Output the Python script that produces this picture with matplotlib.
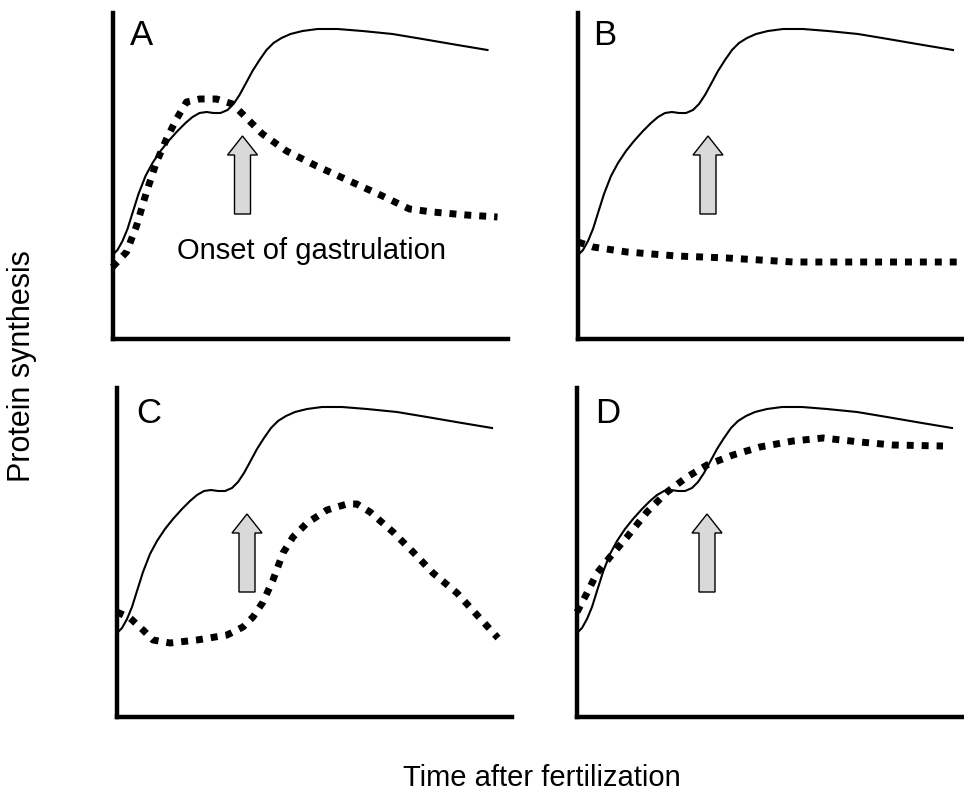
import matplotlib
matplotlib.use("Agg")
import matplotlib.pyplot as plt

plt.rcParams['font.family'] = ['Liberation Sans', 'DejaVu Sans']

# control curve (solid), same in every panel
ctrl_x = [0, 0.5, 1.0, 1.5, 2.0, 2.6, 3.3, 4.0, 4.8, 5.6, 6.5, 7.3, 8.0, 8.7, 9.4, 10.1,
          10.8, 11.5, 12.1, 12.7, 13.3, 14.0, 14.7, 15.4, 16.1, 16.9, 17.8, 19.0, 20.5,
          22.5, 25.0, 28.0, 31.0, 34.5, 37.5]
ctrl_y = [8.4, 8.9, 9.8, 11.0, 12.6, 14.5, 16.3, 17.6, 18.8, 19.8, 20.8, 21.6, 22.2, 22.6,
          22.7, 22.6, 22.6, 22.9, 23.5, 24.4, 25.5, 26.8, 27.9, 28.9, 29.6, 30.1, 30.5, 30.8,
          31.0, 31.0, 30.8, 30.5, 30.0, 29.4, 28.9]

# experimental curves (dotted)
a_x = [0, 1.4, 2.4, 3.4, 4.4, 5.4, 6.4, 7.4, 8.7, 10.4, 12.0, 13.0, 15.0, 17.4,
       20.4, 23.7, 27.0, 29.7, 32.0, 35.4, 38.5]
a_y = [7.2, 8.7, 11.3, 14.7, 17.7, 20.0, 22.0, 23.7, 24.0, 24.0, 23.5, 22.5, 20.5, 18.8,
       17.3, 15.8, 14.3, 13.0, 12.7, 12.4, 12.2]

b_x = [0, 1.5, 4.9, 9.9, 14.9, 21.5, 28.2, 37.9]
b_y = [9.7, 9.2, 8.7, 8.3, 8.1, 7.7, 7.7, 7.7]

c_x = [0, 1.3, 2.6, 3.6, 5.3, 8.0, 11.0, 12.6, 13.6, 14.6, 15.6, 16.6, 17.6, 19.0,
       21.0, 23.0, 24.0, 25.3, 27.6, 29.6, 31.6, 34.0, 36.0, 38.1]
c_y = [10.5, 9.9, 8.7, 7.7, 7.4, 7.7, 8.2, 9.0, 10.0, 11.5, 13.7, 16.4, 18.0, 19.4,
       20.7, 21.3, 21.3, 20.5, 18.5, 16.5, 14.4, 12.4, 10.2, 7.9]

d_x = [0, 1.0, 2.0, 3.3, 5.0, 7.0, 9.0, 11.0, 13.0, 15.6, 18.3, 21.6, 24.6, 28.3,
       31.6, 36.6]
d_y = [10.5, 12.4, 14.4, 16.0, 18.0, 20.5, 22.5, 24.0, 25.2, 26.2, 27.0, 27.6, 27.9, 27.5,
       27.2, 27.1]

panel_letters = ['A', 'B', 'C', 'D']
exp_x = [a_x, b_x, c_x, d_x]
exp_y = [a_y, b_y, c_y, d_y]

# arrow marking onset of gastrulation
arrow_x = 13.0
arrow_y0 = 12.5
arrow_y1 = 20.3

W, H = 964, 791
fig = plt.figure(figsize=(W / 100, H / 100), dpi=100)

# axes in pixels: left spine x, bottom spine y, top y
boxes = [(112.5, 339, 13), (578, 339, 13), (117, 717, 388), (577, 717, 388)]
letter_pos = [(1.7, 29.4), (1.5, 29.4), (1.9, 29.4), (1.8, 29.4)]

for i, (lx, by, ty) in enumerate(boxes):
    w = 395
    h = by - ty
    ax = fig.add_axes([lx / W, (H - by) / H, w / W, h / H])
    ax.set_xlim(0, w / 10)
    ax.set_ylim(0, h / 10)
    for s in ['top', 'right']:
        ax.spines[s].set_visible(False)
    for s in ['left', 'bottom']:
        ax.spines[s].set_linewidth(3.2)
        ax.spines[s].set_capstyle('projecting')
    ax.set_xticks([])
    ax.set_yticks([])

    ax.plot(ctrl_x, ctrl_y, color='black', lw=1.5, solid_joinstyle='round')
    ax.plot(exp_x[i], exp_y[i], color='black', lw=5.0,
            linestyle=(0, (1, 1.15)), dash_capstyle='butt', clip_on=False)

    ax.arrow(arrow_x, arrow_y0, 0, arrow_y1 - arrow_y0, width=1.6, head_width=3.0,
             head_length=1.9, length_includes_head=True, fc='#d9d9d9', ec='black', lw=1)

    ax.text(letter_pos[i][0], letter_pos[i][1], panel_letters[i], fontsize=25,
            ha='left', va='baseline')

    if i == 0:
        ax.text(19.9, 8.8, 'Onset of gastrulation', fontsize=21, ha='center', va='center')

fig.text(22 / W, (H - 366) / H, 'Protein synthesis', rotation=90, fontsize=22,
         ha='center', va='center')
fig.text(542 / W, (H - 778) / H, 'Time after fertilization', fontsize=21,
         ha='center', va='center')

fig.savefig('out.png', dpi=100)
